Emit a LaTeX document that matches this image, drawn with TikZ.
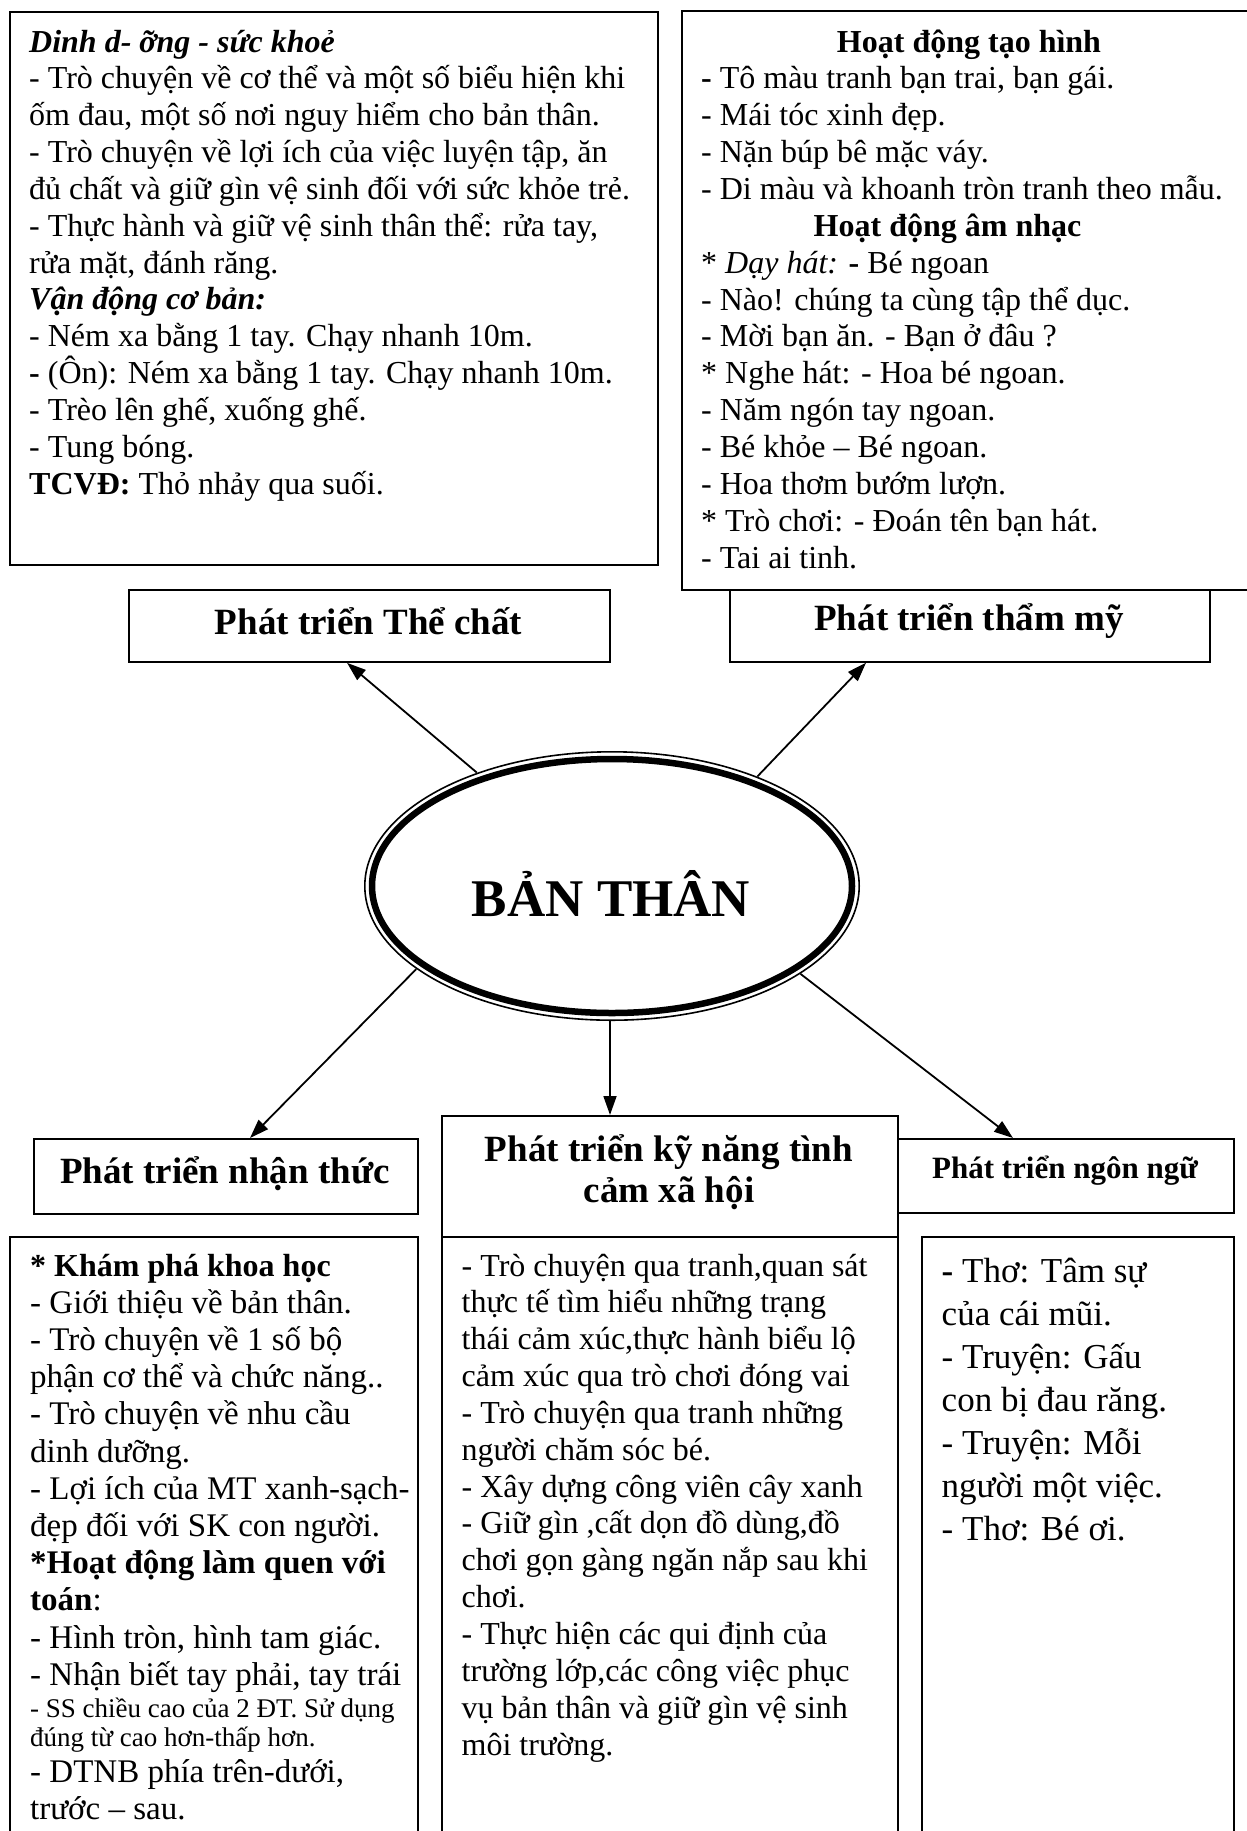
\documentclass[tikz,border=0pt]{standalone}
\usepackage{fontspec}
\setmainfont{Liberation Serif}
\usetikzlibrary{calc,arrows.meta,shapes.geometric}
\begin{document}
\begin{tikzpicture}[x=1pt,y=-1pt,
  box/.style={draw, line width=1.8pt, inner sep=0pt, anchor=north west},
  ln/.style={anchor=base west, inner sep=0pt},
  f32/.style={font=\fontsize{32}{37}\selectfont},
  f33/.style={font=\fontsize{33}{37}\selectfont},
  f27/.style={font=\fontsize{27}{30}\selectfont},
  f35/.style={font=\fontsize{35}{43}\selectfont},
  hd/.style={anchor=base, inner sep=0pt, font=\bfseries\fontsize{37}{41}\selectfont},
  subhd/.style={anchor=base, inner sep=0pt, font=\bfseries\fontsize{32}{37}\selectfont},
  arr/.style={line width=1.8pt, -{Triangle[length=19pt,width=13pt]}}]
\useasboundingbox (0,0) rectangle (1247,1831);
\clip (0,0) rectangle (1247,1831);

% boxes
\node[box, minimum width=648pt, minimum height=553pt] (tlbox) at (9,11) {};
\node[box, minimum width=600pt, minimum height=579pt] (trbox) at (681,10) {};
\node[box, minimum width=481pt, minimum height=72pt] (thechat) at (128,589) {};
\node[box, minimum width=480pt, minimum height=72pt] (thammy) at (729,589) {};
\node[box, minimum width=384pt, minimum height=75pt] (nhanthuc) at (33,1138) {};
\node[box, minimum width=456pt, minimum height=121pt] (kynang) at (441,1115) {};
\node[box, minimum width=336pt, minimum height=74pt] (ngonngu) at (897,1138) {};
\node[box, minimum width=408pt, minimum height=620pt] (blbox) at (9,1236) {};
\node[box, minimum width=456pt, minimum height=620pt] (bmbox) at (441,1236) {};
\node[box, minimum width=312pt, minimum height=620pt] (brbox) at (921,1236) {};

% header labels
\node[hd] (thechat-t) at (368.5,634) {Phát triển Thể chất};
\node[hd] (thammy-t) at (969,630) {Phát triển thẩm mỹ};
\node[hd] (nhanthuc-t) at (225,1183) {Phát triển nhận thức};
\node[hd] (kynang-t1) at (669,1161) {Phát triển kỹ năng tình};
\node[hd] (kynang-t2) at (669,1202) {cảm xã hội};
\node[hd, font=\bfseries\fontsize{31}{35}\selectfont] (ngonngu-t) at (1065,1178) {Phát triển ngôn ngữ};

% centre ellipse
\node[ellipse, minimum width=496pt, minimum height=270pt, inner sep=0pt] (ell) at (612,886) {};
\draw[line width=1.6pt] (ell.center) ellipse [x radius=247.2pt, y radius=134.2pt];
\draw[line width=6.5pt] (ell.center) ellipse [x radius=240pt, y radius=127pt];
\node[anchor=base, inner sep=0pt, font=\bfseries\fontsize{53}{60}\selectfont] (bt) at (611,916) {BẢN THÂN};

% connectors
\coordinate (a1) at ($(thechat.south west)+(219,0)$);
\coordinate (a2) at ($(thammy.south west)+(137,0)$);
\coordinate (a3) at ($(nhanthuc.north west)+(217,0)$);
\coordinate (a4) at ($(kynang.north west)+(169,0)$);
\coordinate (a5) at ($(ngonngu.north west)+(116,0)$);
\draw[arr] (ell.140.6) -- (a1);
\draw[arr] (ell.37.8) -- (a2);
\draw[arr] (ell.203.5) -- (a3);
\draw[arr] (ell.south -| a4) -- (a4);
\draw[arr] (ell.335.4) -- (a5);

% top-left text
\foreach \txt [count=\i from 0] in {
  {\textbf{\textit{Dinh d- ỡng - sức khoẻ}}},
  {- Trò chuyện về cơ thể và một số biểu hiện khi},
  {ốm đau, một số nơi nguy hiểm cho bản thân.},
  {- Trò chuyện về lợi ích của việc luyện tập, ăn},
  {đủ chất và giữ gìn vệ sinh đối với sức khỏe trẻ.},
  {- Thực hành và giữ vệ sinh thân thể: rửa tay,},
  {rửa mặt, đánh răng.},
  {\textbf{\textit{Vận động cơ bản:}}},
  {- Ném xa bằng 1 tay. Chạy nhanh 10m.},
  {\textbf{-} (Ôn): Ném xa bằng 1 tay. Chạy nhanh 10m.},
  {- Trèo lên ghế, xuống ghế.},
  {- Tung bóng.},
  {\textbf{TCVĐ:} Thỏ nhảy qua suối.}}
  \node[ln, f32, name=tl\i] at (29,{52+36.85*\i}) {\txt};

% top-right text
\node[subhd] (trh1) at (969,52) {Hoạt động tạo hình};
\foreach \txt [count=\i from 1] in {
  {\textbf{-} Tô màu tranh bạn trai, bạn gái.},
  {- Mái tóc xinh đẹp.},
  {- Nặn búp bê mặc váy.},
  {- Di màu và khoanh tròn tranh theo mẫu.}}
  \node[ln, f32, name=tra\i] at (701,{52+36.86*\i}) {\txt};
\node[subhd] (trh2) at (947.5,{52+36.86*5}) {Hoạt động âm nhạc};
\foreach \txt [count=\i from 6] in {
  {* \textit{Dạy hát:} \textbf{-} Bé ngoan},
  {- Nào! chúng ta cùng tập thể dục.},
  {- Mời bạn ăn. - Bạn ở đâu ?},
  {* Nghe hát: - Hoa bé ngoan.},
  {- Năm ngón tay ngoan.},
  {- Bé khỏe – Bé ngoan.},
  {- Hoa thơm bướm lượn.},
  {* Trò chơi: - Đoán tên bạn hát.},
  {- Tai ai tinh.}}
  \node[ln, f32, name=trb\i] at (701,{52+36.86*\i}) {\txt};

% bottom-left text
\foreach \txt [count=\i from 0] in {
  {\fontsize{32}{36}\selectfont\textbf{* Khám phá khoa học}},
  {- Giới thiệu về bản thân.},
  {- Trò chuyện về 1 số bộ},
  {phận cơ thể và chức năng..},
  {- Trò chuyện về nhu cầu},
  {dinh dưỡng.},
  {- Lợi ích của MT xanh-sạch-},
  {đẹp đối với SK con người.},
  {\textbf{*Hoạt động làm quen với}},
  {\textbf{toán}:},
  {- Hình tròn, hình tam giác.},
  {- Nhận biết tay phải, tay trái}}
  \node[ln, f33, name=bl\i] at (30,{1276+37.2*\i}) {\txt};
\node[ln, f27] (bls1) at (30,1717.5) {- SS chiều cao của 2 ĐT. Sử dụng};
\node[ln, f27] (bls2) at (30,1746.5) {đúng từ cao hơn-thấp hơn.};
\node[ln, f33] (bl12) at (30,1782) {- DTNB phía trên-dưới,};
\node[ln, f33] (bl13) at (30,1819) {trước – sau.};

% bottom-middle text
\foreach \txt [count=\i from 0] in {
  {- Trò chuyện qua tranh,quan sát},
  {thực tế tìm hiểu những trạng},
  {thái cảm xúc,thực hành biểu lộ},
  {cảm xúc qua trò chơi đóng vai},
  {- Trò chuyện qua tranh những},
  {người chăm sóc bé.},
  {- Xây dựng công viên cây xanh},
  {- Giữ gìn ,cất dọn đồ dùng,đồ},
  {chơi gọn gàng ngăn nắp sau khi},
  {chơi.},
  {- Thực hiện các qui định của},
  {trường lớp,các công việc phục},
  {vụ bản thân và giữ gìn vệ sinh},
  {môi trường.}}
  \node[ln, f32, name=bm\i] at (461.5,{1276+36.85*\i}) {\txt};

% bottom-right text
\foreach \txt [count=\i from 0] in {
  {\textbf{-} Thơ: Tâm sự},
  {của cái mũi.},
  {- Truyện: Gấu},
  {con bị đau răng.},
  {- Truyện: Mỗi},
  {người một việc.},
  {- Thơ: Bé ơi.}}
  \node[ln, f35, name=br\i] at (941.5,{1282+43.1*\i}) {\txt};
\end{tikzpicture}
\end{document}
